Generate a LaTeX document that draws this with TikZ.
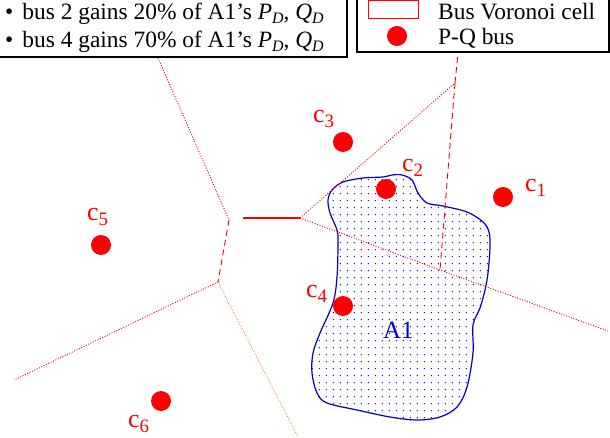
\documentclass[tikz,border=0pt]{standalone}
\usepackage{fontspec}
\setmainfont{Liberation Serif}
\usetikzlibrary{patterns.meta}
\definecolor{vred}{RGB}{255,0,0}
\definecolor{vorange}{RGB}{255,130,60}
\definecolor{aBlue}{RGB}{0,0,200}
\tikzset{
  bus/.style={circle,fill=vred,minimum size=20bp,inner sep=0pt},
  lbl/.style={text=vred,inner sep=0pt,anchor=base west,font=\fontsize{26}{26}\selectfont},
  dotline/.style={vred,line width=0.9bp,dash pattern=on 1bp off 1.6bp},
  dashline/.style={vred,line width=0.9bp,dash pattern=on 6bp off 4bp},
  legtxt/.style={inner sep=0pt,anchor=base west,font=\fontsize{23.5}{23.5}\selectfont},
  legbox/.style={black,line width=1.2bp},
}
\newcommand{\clab}[1]{c\raisebox{-5bp}{\fontsize{19}{19}\selectfont #1}}
\newcommand{\subD}[1]{\textit{#1}\raisebox{-4bp}{\fontsize{16}{16}\selectfont\itshape D}}
\begin{document}
\begin{tikzpicture}[x=1bp,y=-1bp]
\useasboundingbox (0,0) rectangle (610,438);
% blue region A1
\draw[aBlue,line width=1.2bp,pattern={Dots[distance=6.8bp,radius=0.75bp]},pattern color=blue]
  plot[smooth cycle,tension=0.55] coordinates {
  (332,190) (343,182) (363,178) (383,177) (392,175) (402,175) (412,180) (418,193)
  (427,203) (443,206) (467,212) (483,222) (489,232) (490,247) (488,273) (485,290)
  (480,308) (473,325) (473,353) (467,387) (457,407) (440,417) (417,420) (390,417)
  (357,410) (327,403) (317,393) (312,373) (313,353) (320,333) (333,303) (337,277)
  (338,243) (337,230) (330,213) (328,200)};
\node[text=aBlue,inner sep=0pt,anchor=base west,font=\fontsize{25}{25}\selectfont] (A1) at (383,338) {A1};
% Voronoi vertices
\coordinate (v1) at (158,58);
\coordinate (v2) at (229,220);
\coordinate (v3) at (218,282);
\coordinate (e1) at (14,380);
\coordinate (e2) at (298,437);
\coordinate (h1) at (243,218);
\coordinate (v4) at (300,218);
\coordinate (v5) at (455,83);
\coordinate (e3) at (458,53);
\coordinate (v6) at (440,270);
\coordinate (e4) at (608,331);
% Voronoi edges
\draw[dotline] (v1) -- (v2);
\draw[dashline] (v2) -- (v3);
\draw[dotline] (v3) -- (e1);
\draw[dotline,vorange] (v3) -- (e2);
\draw[vred,line width=1.2bp] (h1) -- (v4);
\draw[dotline] (v4) -- (v5);
\draw[dashline] (v5) -- (e3);
\draw[dashline] (v5) -- (v6);
\draw[dotline] (v4) -- (v6) -- (e4);
% buses
\node[bus] (c1) at (503,197) {};
\node[bus] (c2) at (386,189) {};
\node[bus] (c3) at (343,142) {};
\node[bus] (c4) at (343,306) {};
\node[bus] (c5) at (101,245) {};
\node[bus] (c6) at (161,401) {};
\node[lbl] (l1) at (525,192) {\clab{1}};
\node[lbl] (l2) at (402,172) {\clab{2}};
\node[lbl] (l3) at (313,123) {\clab{3}};
\node[lbl] (l4) at (306,298) {\clab{4}};
\node[lbl] (l5) at (87,221) {\clab{5}};
\node[lbl] (l6) at (128,427) {\clab{6}};
% legends
\draw[legbox,fill=white] (-2,-2) rectangle (347,57);
\node[legtxt] (t1) at (5,20) {\textbullet\hspace{9bp}bus 2 gains 20\% of A1's \subD{P}, \subD{Q}};
\node[legtxt] (t2) at (5,48) {\textbullet\hspace{9bp}bus 4 gains 70\% of A1's \subD{P}, \subD{Q}};
\draw[legbox,fill=white] (357,-2) rectangle (609,52);
\draw[vred,line width=1bp] (368,1) rectangle (418,19);
\node[bus] (legdot) at (397,36) {};
\node[legtxt] (t3) at (438,20) {Bus Voronoi cell};
\node[legtxt] (t4) at (438,45) {P-Q bus};
\end{tikzpicture}
\end{document}
